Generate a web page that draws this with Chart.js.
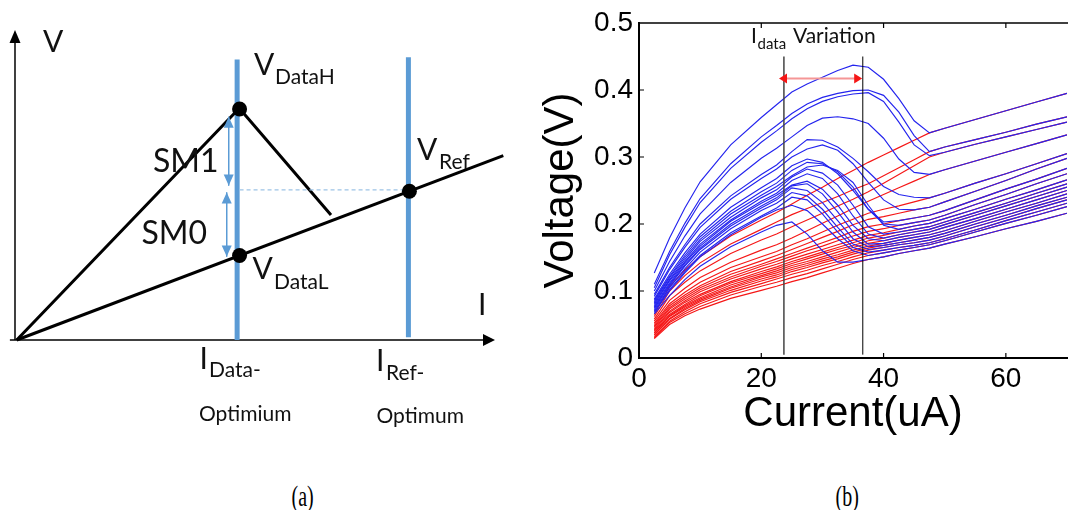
<!DOCTYPE html>
<html><head><meta charset="utf-8">
<script src="https://cdn.jsdelivr.net/npm/chart.js@4/dist/chart.umd.min.js"></script>
<style>
html,body{margin:0;padding:0;background:#fff;}
#wrap{position:relative;width:1068px;height:510px;overflow:hidden;background:#fff;}
#ca{position:absolute;left:0;top:0;width:530px;height:470px;}
#cb{position:absolute;left:530px;top:0;width:538px;height:470px;}
.cap{position:absolute;top:481px;font-family:"Liberation Serif",serif;font-size:21px;line-height:22px;color:#000;transform:scale(0.95,1.4);transform-origin:50% 0;}
</style></head><body>
<div id="wrap">
<canvas id="ca" width="530" height="470"></canvas>
<canvas id="cb" width="538" height="470"></canvas>
<div class="cap" style="left:291px">(a)</div>
<div class="cap" style="left:835px">(b)</div>
</div>
<script>
// ---------------- Panel (b) data ----------------
const currentUA = [2.5,5,7.5,10,15,20,22.5,25,27.5,30,32.5,35,37.5,40,42.5,45,47.5,50,55,60,65,70];
const xTickValues = [0,20,40,60];
const yTickValues = [0,0.1,0.2,0.3,0.4,0.5];

const red1  = [.065,.107,.131,.151,.182,.206,.217,.230,.243,.255,.268,.280,.292,.303,.314,.325,.336,.343,.356,.369,.382,.395];
const red2  = [.062,.100,.123,.142,.170,.192,.203,.214,.223,.232,.241,.251,.260,.272,.284,.296,.308,.315,.326,.337,.349,.360];
const red3  = [.058,.093,.113,.130,.156,.176,.185,.196,.206,.216,.227,.237,.248,.261,.274,.287,.300,.307,.319,.330,.341,.352];
const red4  = [.055,.086,.104,.120,.143,.161,.169,.179,.190,.201,.212,.223,.234,.244,.254,.264,.274,.281,.294,.307,.320,.333];
const red5  = [.052,.081,.098,.113,.135,.151,.159,.169,.178,.188,.198,.207,.216,.222,.227,.233,.239,.246,.261,.275,.290,.305];
const red6  = [.050,.078,.094,.108,.129,.145,.153,.162,.171,.180,.189,.199,.207,.211,.216,.221,.225,.233,.249,.265,.282,.298];
const red7  = [.048,.075,.091,.105,.125,.140,.148,.156,.164,.172,.180,.189,.196,.200,.205,.209,.213,.220,.236,.252,.267,.283];
const red8  = [.046,.073,.088,.102,.121,.137,.144,.152,.160,.167,.175,.182,.189,.193,.198,.202,.206,.213,.229,.244,.260,.275];
const red9  = [.044,.070,.085,.099,.118,.133,.140,.148,.155,.162,.169,.176,.183,.187,.192,.197,.201,.208,.222,.237,.251,.266];
const red10 = [.042,.068,.083,.095,.114,.129,.136,.144,.151,.158,.165,.172,.179,.183,.188,.192,.196,.203,.217,.231,.246,.260];
const red11 = [.040,.065,.080,.093,.112,.126,.133,.141,.148,.155,.162,.168,.175,.179,.184,.188,.192,.199,.213,.227,.241,.255];
const red12 = [.038,.063,.078,.090,.109,.123,.130,.138,.144,.151,.158,.165,.171,.175,.180,.184,.188,.195,.208,.222,.236,.250];
const red13 = [.037,.062,.076,.088,.106,.121,.127,.135,.141,.148,.154,.161,.167,.171,.176,.180,.184,.190,.204,.218,.231,.245];
const red14 = [.035,.059,.074,.086,.104,.118,.124,.132,.138,.145,.151,.158,.164,.168,.172,.176,.180,.186,.200,.213,.227,.240];
const red15 = [.034,.058,.072,.084,.101,.115,.121,.129,.135,.142,.148,.155,.161,.165,.169,.172,.176,.182,.196,.209,.223,.236];
const red16 = [.032,.055,.069,.081,.098,.111,.118,.125,.131,.138,.144,.151,.157,.161,.165,.168,.172,.178,.191,.205,.218,.231];
const red17 = [.030,.053,.066,.077,.094,.107,.113,.120,.126,.133,.140,.147,.153,.157,.161,.165,.169,.175,.188,.201,.213,.226];
const red18 = [.029,.050,.063,.073,.089,.101,.107,.114,.120,.127,.134,.141,.147,.151,.156,.160,.164,.170,.181,.193,.204,.216];

const blue1  = [.127,.179,.224,.263,.318,.359,.378,.397,.409,.419,.429,.437,.434,.416,.387,.354,.336,.343,.356,.369,.382,.395];
const blue2  = [.110,.159,.201,.238,.290,.330,.347,.365,.379,.389,.395,.399,.400,.392,.367,.332,.308,.315,.326,.337,.349,.360];
const blue3  = [.105,.154,.195,.232,.283,.322,.339,.357,.372,.383,.390,.394,.396,.383,.352,.318,.302,.307,.319,.330,.341,.352];
const blue4  = [.100,.144,.182,.215,.262,.298,.313,.330,.347,.358,.360,.357,.350,.328,.297,.277,.274,.281,.294,.307,.320,.333];
const blue5  = [.095,.135,.169,.200,.242,.274,.288,.308,.326,.325,.315,.298,.278,.256,.244,.240,.239,.246,.261,.275,.290,.305];
const blue6  = [.092,.132,.165,.195,.237,.268,.282,.300,.312,.318,.310,.290,.262,.236,.222,.221,.225,.233,.249,.265,.282,.298];
const blue7  = [.088,.125,.157,.185,.225,.254,.268,.287,.297,.292,.275,.250,.222,.203,.205,.209,.213,.220,.236,.252,.267,.283];
const blue8  = [.086,.122,.153,.181,.219,.248,.261,.280,.292,.290,.278,.255,.222,.200,.198,.202,.206,.213,.229,.244,.260,.275];
const blue9  = [.084,.120,.150,.177,.215,.243,.256,.272,.285,.288,.280,.262,.228,.198,.192,.197,.201,.208,.222,.237,.251,.266];
const blue10 = [.082,.117,.147,.174,.210,.239,.251,.270,.282,.276,.258,.228,.196,.185,.188,.192,.196,.203,.217,.231,.246,.260];
const blue11 = [.080,.115,.144,.170,.206,.234,.246,.265,.275,.268,.245,.212,.185,.179,.184,.188,.192,.199,.213,.227,.241,.255];
const blue12 = [.078,.112,.142,.167,.204,.231,.243,.258,.264,.252,.228,.198,.178,.175,.180,.184,.188,.195,.208,.222,.236,.250];
const blue13 = [.076,.110,.139,.164,.200,.227,.239,.257,.260,.245,.218,.188,.170,.171,.176,.180,.184,.190,.204,.218,.231,.245];
const blue14 = [.074,.108,.137,.162,.197,.224,.236,.254,.250,.232,.205,.178,.166,.168,.172,.176,.180,.186,.200,.213,.227,.240];
const blue15 = [.072,.105,.133,.158,.193,.220,.231,.247,.242,.222,.195,.170,.162,.165,.169,.172,.176,.182,.196,.209,.223,.236];
const blue16 = [.070,.102,.129,.153,.187,.212,.224,.240,.236,.215,.188,.165,.158,.161,.165,.168,.172,.178,.191,.205,.218,.231];
const blue17 = [.068,.100,.127,.151,.184,.210,.221,.228,.220,.200,.178,.160,.153,.157,.161,.165,.169,.175,.188,.201,.213,.226];
const blue18 = [.066,.093,.117,.137,.166,.188,.198,.203,.185,.160,.143,.143,.147,.151,.156,.160,.164,.170,.181,.193,.204,.216];

const variationI = [23.7, 36.6];        // uA, the two vertical markers
const variationLineV = [0.005, 0.45];
const variationArrowI = [22.9, 36.5];   // arrow tips
const variationArrowV = 0.417;

// ---------------- Panel (a) schematic data (arbitrary I / V units) ----------------
const axisI = -0.035, vAxisTopV = 10.0;
const iAxisStartI = -0.14, iAxisEndI = 9.83;
const optimumI = [4.53, 8.05];
const optimumTopV = [9.05, 9.12];
const optimumBottomV = [0, 0.09];
const upperI = [0, 4.575, 6.459];
const upperV = [0, 7.474, 4.032];
const lowerI = [0, 10];
const lowerV = [0, 5.95];
const pointI = [4.58, 4.58, 8.07];
const pointV = [7.45, 2.725, 4.80];
const refLevelI = [4.58, 8.07];
const refLevelV = 4.84;
const sm1I = 4.357, sm1V = [7.2, 4.98];
const sm0I = 4.316, sm0V = [4.76, 2.69];

const BLUE = 'rgb(36,36,238)';
const RED = 'rgb(245,22,22)';
const OFFICE = '#5b9bd5';

function tri(ctx, x, y, dir, len, half, color){
  ctx.save(); ctx.fillStyle = color; ctx.beginPath();
  if (dir === 'up'){ ctx.moveTo(x,y); ctx.lineTo(x-half,y+len); ctx.lineTo(x+half,y+len); }
  else if (dir === 'down'){ ctx.moveTo(x,y); ctx.lineTo(x-half,y-len); ctx.lineTo(x+half,y-len); }
  else if (dir === 'right'){ ctx.moveTo(x,y); ctx.lineTo(x-len,y-half); ctx.lineTo(x-len,y+half); }
  else { ctx.moveTo(x,y); ctx.lineTo(x+len,y-half); ctx.lineTo(x+len,y+half); }
  ctx.closePath(); ctx.fill(); ctx.restore();
}
function txt(ctx, s, x, y, size, family){
  ctx.font = size + 'px ' + (family || 'Lato');
  ctx.fillText(s, x, y);
}

// ---------------- Panel (a) ----------------
const pts = (xs, ys) => xs.map((x,i)=>({x, y: ys[i]}));
const lineDs = (data, color, width, extra) => Object.assign({data, showLine:true, borderColor:color, backgroundColor:color, borderWidth:width, pointRadius:0, clip:false, tension:0}, extra||{});

const panelA = {
  id:'panelA',
  afterDatasetsDraw(chart){
    const ctx = chart.ctx, xs = chart.scales.x, ys = chart.scales.y;
    const X = v => xs.getPixelForValue(v), Y = v => ys.getPixelForValue(v);
    tri(ctx, X(axisI), Y(vAxisTopV), 'up', 13, 5.5, '#000');
    tri(ctx, X(iAxisEndI), Y(0), 'right', 12, 6, '#000');
    tri(ctx, X(sm1I), Y(sm1V[0]), 'up', 11, 5, OFFICE);
    tri(ctx, X(sm1I), Y(sm1V[1]), 'down', 11, 5, OFFICE);
    tri(ctx, X(sm0I), Y(sm0V[0]), 'up', 11, 5, OFFICE);
    tri(ctx, X(sm0I), Y(sm0V[1]), 'down', 11, 5, OFFICE);
    ctx.save();
    ctx.fillStyle = '#111'; ctx.textBaseline = 'alphabetic'; ctx.textAlign = 'left';
    txt(ctx,'V',43,51.7,30);
    txt(ctx,'I',478,315,30);
    txt(ctx,'V',254,75,30);   txt(ctx,'DataH',275,83.5,21);
    txt(ctx,'V',417,160,30);  txt(ctx,'Ref',439,168.5,21);
    txt(ctx,'V',252.5,278.5,30); txt(ctx,'DataL',274,288.5,21);
    txt(ctx,'SM1',153,172,32);
    txt(ctx,'SM0',141.5,243.5,32);
    txt(ctx,'I',199.5,368.5,30); txt(ctx,'Data-',209,377,21);
    txt(ctx,'Optimium',199,420.5,21);
    txt(ctx,'I',376,371,30); txt(ctx,'Ref-',386,380,21);
    txt(ctx,'Optimum',376.5,423,21);
    ctx.restore();
  }
};

new Chart(document.getElementById('ca'), {
  type:'scatter',
  data:{datasets:[
    lineDs(pts(pointI, pointV), '#000', 0, {showLine:false, pointRadius:7.5, pointBackgroundColor:'#000', pointBorderWidth:0, order:0}),
    lineDs(pts([sm1I,sm1I], sm1V), OFFICE, 1, {order:1}),
    lineDs(pts([sm0I,sm0I], sm0V), OFFICE, 1, {order:1}),
    lineDs(pts(refLevelI, [refLevelV, refLevelV]), '#9dc3e6', 1.2, {borderDash:[4,3], order:1}),
    lineDs(pts(upperI, upperV), '#000', 3, {order:2}),
    lineDs(pts(lowerI, lowerV), '#000', 3, {order:2}),
    lineDs(pts([optimumI[0],optimumI[0]], [optimumBottomV[0], optimumTopV[0]]), OFFICE, 5, {order:3}),
    lineDs(pts([optimumI[1],optimumI[1]], [optimumBottomV[1], optimumTopV[1]]), OFFICE, 5, {order:3}),
    lineDs(pts([axisI,axisI], [0, vAxisTopV-0.3]), '#000', 1.5, {order:4}),
    lineDs(pts([iAxisStartI, iAxisEndI-0.2], [0,0]), '#000', 1.5, {order:4})
  ]},
  options:{
    responsive:false, animation:false, events:[],
    layout:{padding:{left:16.7, right:26.7, top:30, bottom:130}},
    scales:{ x:{type:'linear', min:0, max:10, display:false}, y:{type:'linear', min:0, max:10, display:false} },
    plugins:{legend:{display:false}, tooltip:{enabled:false}}
  },
  plugins:[panelA]
});

// ---------------- Panel (b) ----------------
const redSeries = [red1,red2,red3,red4,red5,red6,red7,red8,red9,red10,red11,red12,red13,red14,red15,red16,red17,red18];
const blueSeries = [blue1,blue2,blue3,blue4,blue5,blue6,blue7,blue8,blue9,blue10,blue11,blue12,blue13,blue14,blue15,blue16,blue17,blue18];
const curve = (s, color, order) => ({data: currentUA.map((x,i)=>({x, y:s[i]})), borderColor:color, borderWidth:1.15, pointRadius:0, tension:0, order});

const panelB = {
  id:'panelB',
  afterDatasetsDraw(chart){
    const ctx = chart.ctx, xs = chart.scales.x, ys = chart.scales.y, a = chart.chartArea;
    const X = v => xs.getPixelForValue(v), Y = v => ys.getPixelForValue(v);
    ctx.save();
    ctx.strokeStyle = '#000'; ctx.lineWidth = 1.5;
    ctx.beginPath(); ctx.moveTo(a.left, a.top); ctx.lineTo(a.right+2, a.top); ctx.stroke();
    ctx.lineWidth = 1.2; ctx.beginPath();
    xTickValues.forEach(v => { if (v === 0) return; const x = X(v);
      ctx.moveTo(x, a.bottom); ctx.lineTo(x, a.bottom-5);
      ctx.moveTo(x, a.top); ctx.lineTo(x, a.top+5); });
    yTickValues.forEach(v => { if (v === 0 || v === 0.5) return; const y = Y(v);
      ctx.moveTo(a.left, y); ctx.lineTo(a.left+5, y); });
    ctx.stroke();
    tri(ctx, X(variationArrowI[0]), Y(variationArrowV), 'left', 8, 5, RED);
    tri(ctx, X(variationArrowI[1]), Y(variationArrowV), 'right', 8, 5, RED);
    ctx.fillStyle = '#111'; ctx.textBaseline = 'alphabetic';
    txt(ctx,'I',221,43.3,21);
    txt(ctx,'data',227.5,48.5,15);
    txt(ctx,'Variation',263,43.3,21);
    ctx.restore();
  }
};

const axisFont = {family:'Liberation Sans', size:28};
const titleFont = {family:'Liberation Sans', size:42};
new Chart(document.getElementById('cb'), {
  type:'line',
  data:{datasets:[
    ...blueSeries.map(s => curve(s, BLUE, 1)),
    ...redSeries.map(s => curve(s, RED, 2)),
    {data: pts([variationI[0],variationI[0]], variationLineV), borderColor:'#444', borderWidth:1.5, pointRadius:0, order:0},
    {data: pts([variationI[1],variationI[1]], variationLineV), borderColor:'#000', borderWidth:1, pointRadius:0, order:0},
    {data: pts([variationArrowI[0]+0.8, variationArrowI[1]-0.8], [variationArrowV, variationArrowV]), borderColor:'rgb(245,150,150)', borderWidth:2, pointRadius:0, order:0}
  ]},
  options:{
    responsive:false, animation:false, events:[],
    layout:{padding:{left:0, top:23, right:1, bottom:0}},
    plugins:{legend:{display:false}, tooltip:{enabled:false}},
    scales:{
      x:{type:'linear', min:0, max:70,
        grid:{display:false, drawTicks:false},
        border:{display:true, color:'#000', width:2},
        ticks:{color:'#000', font:axisFont, padding:4, maxRotation:0, autoSkip:false, callback:v=>String(v)},
        afterBuildTicks:s=>{ s.ticks = xTickValues.map(v=>({value:v})); },
        afterFit:s=>{ s.height = 112; },
        title:{display:true, text:'Current(uA)', color:'#000', font:titleFont, padding:{top:0, bottom:30}}
      },
      y:{type:'linear', min:0, max:0.5,
        grid:{display:false, drawTicks:false},
        border:{display:true, color:'#000', width:2},
        ticks:{color:'#000', font:axisFont, padding:6, autoSkip:false, callback:v=>String(v)},
        afterBuildTicks:s=>{ s.ticks = yTickValues.map(v=>({value:v})); },
        afterFit:s=>{ s.width = 109; },
        title:{display:true, text:'Voltage(V)', color:'#000', font:titleFont, padding:{top:6, bottom:0}}
      }
    }
  },
  plugins:[panelB]
});
</script>
</body></html>
